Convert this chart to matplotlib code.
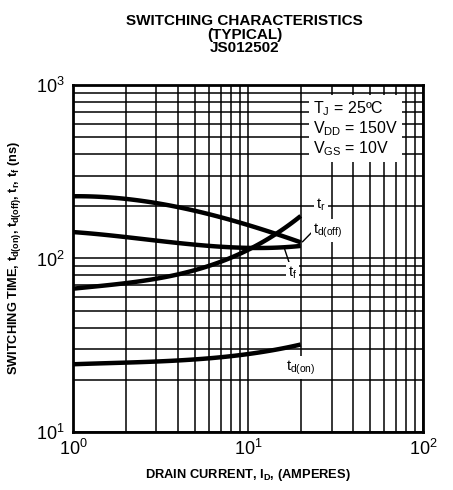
import matplotlib

matplotlib.use("Agg")

import matplotlib.pyplot as plt
import numpy as np

plt.rcParams.update({
    "font.family": ["Liberation Sans", "DejaVu Sans"],
    "mathtext.fontset": "custom",
    "mathtext.rm": "Liberation Sans",
    "mathtext.it": "Liberation Sans",
    "mathtext.bf": "Liberation Sans:bold",
})

# drain current (A) and switching times (ns)
drain_current = [1, 2, 5, 10, 15, 20]
td_off = [228, 222, 186, 158, 136, 124]
t_fall = [142, 133, 120, 115, 116, 118]
t_rise = [67, 72, 86, 112, 142, 176]
td_on = [24.6, 25.0, 26.4, 28.0, 30.0, 32.0]

conditions = ["T$_\\mathregular{J}$ = 25ºC", "V$_\\mathregular{DD}$ = 150V", "V$_\\mathregular{GS}$ = 10V"]


def smooth(x, y, n=80):
    lx = np.log10(x)
    ly = np.log10(y)
    xs = np.linspace(lx[0], lx[-1], n)
    coef = np.polyfit(lx, ly, 3)
    return 10 ** xs, 10 ** np.polyval(coef, xs)


figure = plt.figure(figsize=(4.53, 4.90), dpi=100)
axis = figure.add_axes([0.161, 0.1184, 0.773, 0.7081])

axis.set_xscale("log")
axis.set_yscale("log")
axis.set_xlim(1, 100)
axis.set_ylim(10, 1000)

axis.grid(True, which="both", color="black", linewidth=1.1, zorder=0)
axis.tick_params(which="both", length=0, labelsize=13)
axis.tick_params(axis="x", pad=5)
axis.tick_params(axis="y", pad=6)
for spine in axis.spines.values():
    spine.set_linewidth(2.0)

for values in (td_off, t_fall, t_rise, td_on):
    xs, ys = smooth(drain_current, values)
    axis.plot(xs, ys, color="black", linewidth=3.2, solid_capstyle="butt", zorder=3)

# operating conditions box
axis.text(23.5, 560, "\n".join(conditions), fontsize=11.5, linespacing=1.1,
          va="center", ha="left",
          bbox=dict(facecolor="white", edgecolor="none", pad=3), zorder=4)

label_box = dict(facecolor="white", edgecolor="none", pad=1.5)
axis.text(24.5, 205, "t$_\\mathregular{r}$", fontsize=10.5, ha="left", va="center",
          bbox=label_box, zorder=4)
axis.text(23.5, 145, "t$_\\mathregular{d(off)}$", fontsize=10.5, ha="left", va="center",
          bbox=label_box, zorder=4)
axis.text(17.0, 83, "t$_\\mathregular{f}$", fontsize=10.5, ha="left", va="center",
          bbox=label_box, zorder=4)
axis.text(16.5, 23.5, "t$_\\mathregular{d(on)}$", fontsize=10.5, ha="left", va="center",
          bbox=label_box, zorder=4)

# leader lines from labels to curves
axis.plot([20.5, 23.2], [125, 142], color="black", linewidth=1.0, zorder=3)
axis.plot([16.2, 17.4], [113, 91], color="black", linewidth=1.0, zorder=3)

axis.set_xlabel("DRAIN CURRENT, I$_\\mathregular{D}$, (AMPERES)", fontsize=9.3,
                fontweight="bold", labelpad=6)
axis.set_ylabel("SWITCHING TIME, t$_\\mathregular{d(on)}$, t$_\\mathregular{d(off)}$, "
                "t$_\\mathregular{r}$, t$_\\mathregular{f}$ (ns)",
                fontsize=9.2, fontweight="bold", labelpad=9)

figure.text(0.54, 0.972, "SWITCHING CHARACTERISTICS\n(TYPICAL)\nJS012502",
            ha="center", va="top", fontsize=11, fontweight="bold", linespacing=0.98)

figure.savefig("out.png", dpi=100)
